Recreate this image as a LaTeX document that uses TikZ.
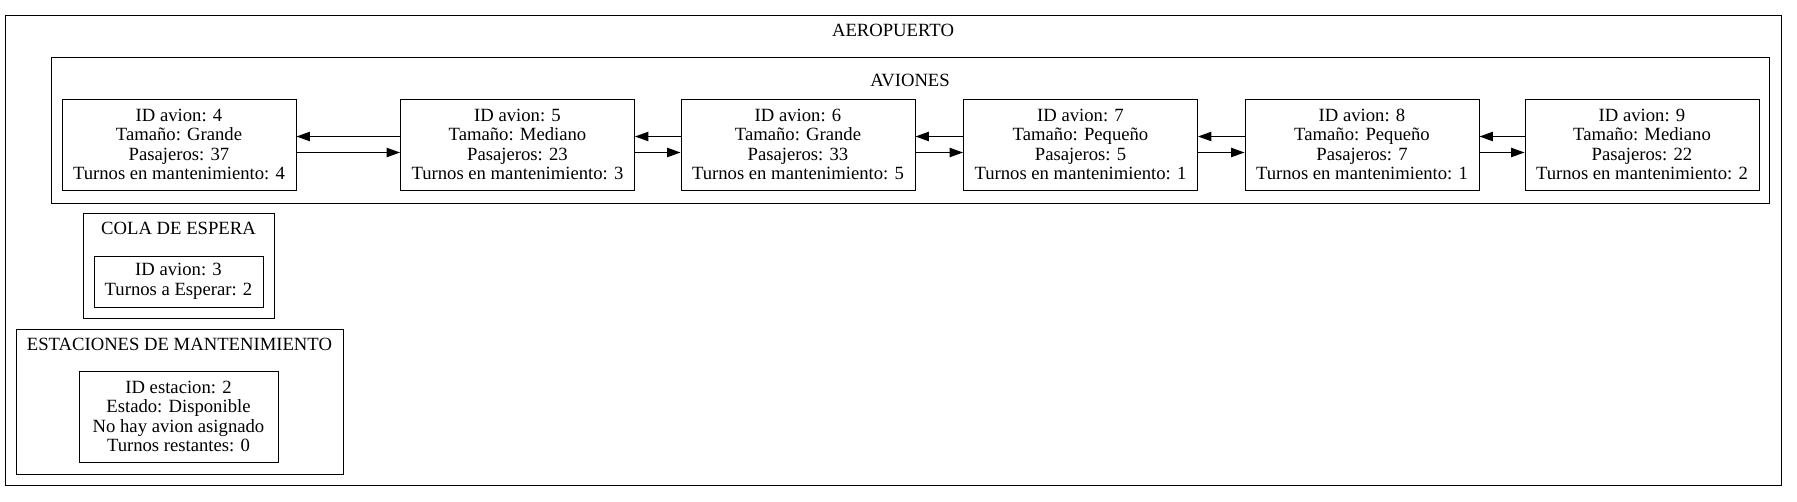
\documentclass[tikz,border=0pt]{standalone}
\usepackage{fontspec}
\setmainfont{Liberation Serif}
\usetikzlibrary{arrows.meta}

\begin{document}
\begin{tikzpicture}[x=0.75pt, y=-0.75pt]

% Stili
\tikzset{
  caja/.style={draw=black, line width=0.75pt},
  avion/.style={draw=black, line width=0.75pt, inner sep=0pt, align=center,
    minimum width=175.5pt, minimum height=68.25pt,
    font=\fontsize{14}{14.6}\selectfont},
  titulo/.style={anchor=base, font=\fontsize{14}{14.6}\selectfont},
  flecha/.style={line width=0.75pt, -{Triangle[length=10pt,width=7pt]}}
}

\useasboundingbox (0,0) rectangle (1797,501);

% Aeropuerto
\draw[caja] (5,15) rectangle (1781,485);
\node[titulo] (tAero) at (893,36) {AEROPUERTO};

% Aviones
\draw[caja] (51,57) rectangle (1769,203);
\node[titulo] (tAviones) at (910,86) {AVIONES};

\node[avion] (a4) at (179,144.5) {ID avion: 4\\Tamaño: Grande\\Pasajeros: 37\\Turnos en mantenimiento: 4};
\node[avion] (a5) at (517.5,144.5) {ID avion: 5\\Tamaño: Mediano\\Pasajeros: 23\\Turnos en mantenimiento: 3};
\node[avion] (a6) at (798,144.5) {ID avion: 6\\Tamaño: Grande\\Pasajeros: 33\\Turnos en mantenimiento: 5};
\node[avion] (a7) at (1080.5,144.5) {ID avion: 7\\Tamaño: Pequeño\\Pasajeros: 5\\Turnos en mantenimiento: 1};
\node[avion] (a8) at (1362,144.5) {ID avion: 8\\Tamaño: Pequeño\\Pasajeros: 7\\Turnos en mantenimiento: 1};
\node[avion] (a9) at (1642,144.5) {ID avion: 9\\Tamaño: Mediano\\Pasajeros: 22\\Turnos en mantenimiento: 2};

% Enlaces (siguiente / anterior)
\draw[flecha] ([yshift=-6pt]a4.east) -- ([yshift=-6pt]a5.west);
\draw[flecha] ([yshift=6pt]a5.west) -- ([yshift=6pt]a4.east);
\draw[flecha] ([yshift=-6pt]a5.east) -- ([yshift=-6pt]a6.west);
\draw[flecha] ([yshift=6pt]a6.west) -- ([yshift=6pt]a5.east);
\draw[flecha] ([yshift=-6pt]a6.east) -- ([yshift=-6pt]a7.west);
\draw[flecha] ([yshift=6pt]a7.west) -- ([yshift=6pt]a6.east);
\draw[flecha] ([yshift=-6pt]a7.east) -- ([yshift=-6pt]a8.west);
\draw[flecha] ([yshift=6pt]a8.west) -- ([yshift=6pt]a7.east);
\draw[flecha] ([yshift=-6pt]a8.east) -- ([yshift=-6pt]a9.west);
\draw[flecha] ([yshift=6pt]a9.west) -- ([yshift=6pt]a8.east);

% Cola de espera
\draw[caja] (83,213) rectangle (274,318);
\node[titulo] (tCola) at (178.5,234) {COLA DE ESPERA};
\node[avion, minimum width=126.75pt, minimum height=38.25pt] (c3) at (178.5,281.5) {ID avion: 3\\Turnos a Esperar: 2};

% Estaciones de mantenimiento
\draw[caja] (16,329) rectangle (343,474);
\node[titulo] (tEst) at (179.5,350) {ESTACIONES DE MANTENIMIENTO};
\node[avion, minimum width=149.25pt, minimum height=68.25pt] (e2) at (178.5,416.5) {ID estacion: 2\\Estado: Disponible\\No hay avion asignado\\Turnos restantes: 0};

\end{tikzpicture}
\end{document}
